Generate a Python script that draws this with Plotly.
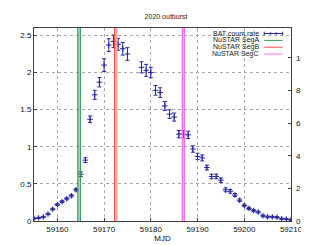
import plotly.graph_objects as go

# ---- data ----
mjd = [59155, 59156, 59157, 59158, 59159, 59160, 59161, 59162, 59163, 59164,
       59165, 59166, 59167, 59168, 59169, 59170, 59171, 59172, 59173, 59174,
       59175, 59178, 59179, 59180, 59181, 59182, 59183, 59184, 59185, 59186,
       59187, 59188, 59189, 59190, 59191, 59192, 59193, 59194, 59195, 59196,
       59197, 59198, 59199, 59200, 59201, 59202, 59203, 59204, 59205, 59206,
       59207, 59208, 59209, 59210]
rate = [0.033, 0.042, 0.055, 0.094, 0.16, 0.22, 0.26, 0.30, 0.34, 0.42,
        0.63, 0.82, 1.37, 1.70, 1.87, 2.10, 2.37, 2.42, 2.38, 2.32,
        2.25, 2.07, 2.03, 2.00, 1.76, 1.73, 1.55, 1.44, 1.40, 1.17,
        1.17, 1.16, 0.97, 0.87, 0.85, 0.72, 0.60, 0.60, 0.55, 0.42,
        0.40, 0.35, 0.28, 0.21, 0.17, 0.14, 0.12, 0.07, 0.055, 0.055,
        0.05, 0.03, 0.026, 0.017]
rate_err = [0.008, 0.008, 0.009, 0.010, 0.012, 0.013, 0.013, 0.014, 0.015, 0.016,
            0.032, 0.032, 0.045, 0.060, 0.064, 0.085, 0.085, 0.085, 0.080, 0.085,
            0.085, 0.075, 0.080, 0.070, 0.065, 0.065, 0.060, 0.058, 0.054, 0.050,
            0.050, 0.050, 0.043, 0.043, 0.040, 0.032, 0.030, 0.030, 0.030, 0.026,
            0.025, 0.020, 0.018, 0.017, 0.015, 0.014, 0.013, 0.012, 0.011, 0.010,
            0.010, 0.009, 0.009, 0.008]
right_axis_factor = 4.548

seg_names = ["NuSTAR SegA", "NuSTAR SegB", "NuSTAR SegC"]
seg_start = [59164.40, 59172.26, 59186.75]
seg_end = [59164.90, 59172.72, 59187.15]
seg_colors = ["#2e9e5a", "#ff4a4a", "#ff66ee"]
seg_colors2 = ["#2e9e5a", "#ff9a9a", "#ff66ee"]

bat_name = "BAT count rate"
bat_color = "#2424a0"

x_ticks = [59160, 59170, 59180, 59190, 59200, 59210]
y_ticks = [0, 0.5, 1, 1.5, 2, 2.5]
y2_ticks = [0, 2, 4, 6, 8, 10]

FONT = "Liberation Sans, Arial, sans-serif"

fig = go.Figure()

for s, e, c, c2 in zip(seg_start, seg_end, seg_colors, seg_colors2):
    fig.add_vline(x=s, line=dict(color=c, width=1.4), layer="above")
    fig.add_vline(x=e, line=dict(color=c2, width=1.4), layer="above")

fig.add_trace(go.Scatter(
    x=mjd, y=rate, mode="markers", name=bat_name,
    marker=dict(symbol="cross-thin", size=4, color=bat_color,
                line=dict(color=bat_color, width=1)),
    error_y=dict(type="data", array=rate_err, visible=True,
                 color=bat_color, thickness=1, width=2),
    showlegend=False,
))
fig.add_trace(go.Scatter(
    x=mjd, y=[r * right_axis_factor for r in rate], yaxis="y2",
    mode="markers", marker=dict(opacity=0), showlegend=False, hoverinfo="skip",
))

# ---- custom gnuplot-style legend (text left, sample right) ----
L, R, T, B = 19, 297, 20, 223
def xp(px):
    return (px - L) / (R - L)
def yp(py):
    return (B - py) / (B - T)

rows_y = [25.8, 33.0, 40.2, 47.4]
txt_right = 265
s0, s1 = 268, 288
names = [bat_name] + seg_names
cols = [bat_color] + seg_colors
for i, (nm, c) in enumerate(zip(names, cols)):
    fig.add_annotation(x=xp(txt_right), y=yp(rows_y[i]), xref="paper", yref="paper",
                       text=nm, showarrow=False, xanchor="right", yanchor="middle",
                       font=dict(size=7, color="#222222", family=FONT))
    fig.add_shape(type="line", xref="paper", yref="paper",
                  x0=xp(s0), x1=xp(s1), y0=yp(rows_y[i]), y1=yp(rows_y[i]),
                  line=dict(color=c, width=1))
    if i == 0:
        for tx in (s0, s0 + 7, s1 - 7, s1):
            h = 2 if tx in (s0, s1) else 1.3
            fig.add_shape(type="line", xref="paper", yref="paper",
                          x0=xp(tx), x1=xp(tx), y0=yp(rows_y[i] - h), y1=yp(rows_y[i] + h),
                          line=dict(color=c, width=1))

axis_common = dict(showline=True, linecolor="#404040", linewidth=1, mirror=True,
                   ticks="inside", ticklen=3, tickcolor="#404040", zeroline=False,
                   tickfont=dict(size=8, color="#111111", family=FONT))

fig.update_layout(
    width=309, height=245,
    margin=dict(l=L, r=309 - R, t=T, b=245 - B),
    paper_bgcolor="white", plot_bgcolor="white",
    showlegend=False,
    title=dict(text="2020 outburst", x=(L + R) / 2 / 309, xanchor="center",
               y=1 - 9 / 245, yanchor="middle",
               font=dict(size=7, color="#222222", family=FONT)),
    xaxis=dict(range=[59155, 59210], tickvals=x_ticks,
               ticktext=[str(v) for v in x_ticks],
               showgrid=True, gridcolor="#a8a8a8", griddash="dot", gridwidth=1,
               title=dict(text="MJD", font=dict(size=8, color="#111111", family=FONT),
                          standoff=2),
               **axis_common),
    yaxis=dict(range=[0, 2.6], tickvals=y_ticks, ticktext=["0", "0.5", "1", "1.5", "2", "2.5"],
               showgrid=True, gridcolor="#a8a8a8", griddash="dot", gridwidth=1,
               **axis_common),
    yaxis2=dict(range=[0, 2.6 * right_axis_factor], tickvals=y2_ticks, overlaying="y",
                side="right", showgrid=False, showline=False, zeroline=False,
                ticks="inside", ticklen=3, tickcolor="#404040", ticklabelstandoff=4,
                tickfont=dict(size=8, color="#111111", family=FONT)),
)

fig.write_html("out.html")
